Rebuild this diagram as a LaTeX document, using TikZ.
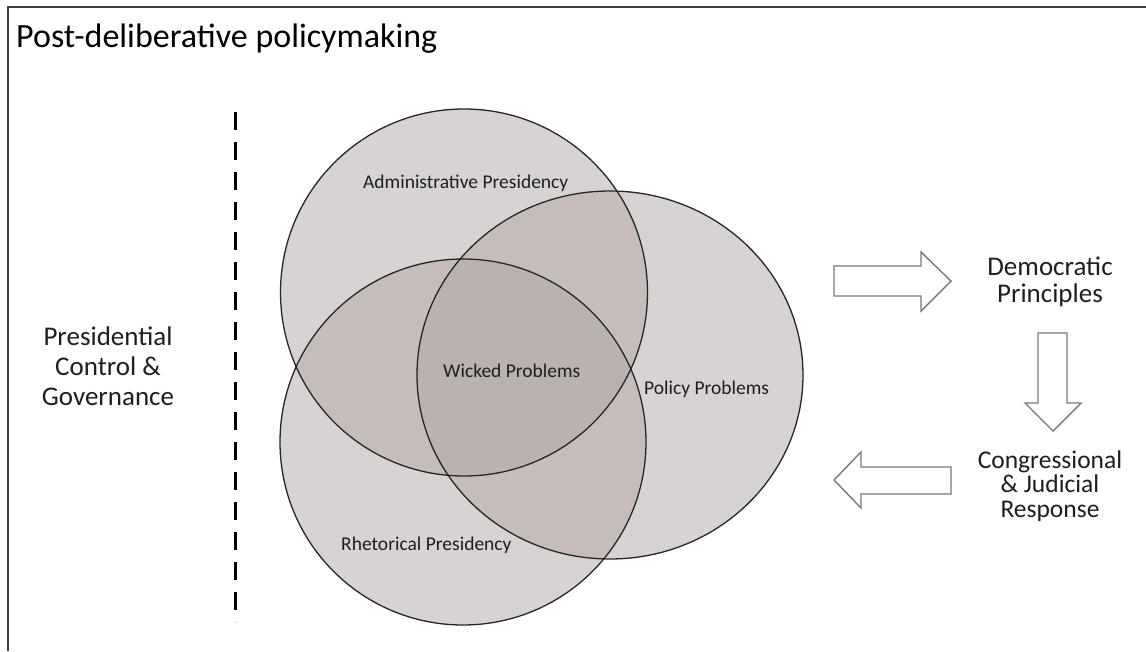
\documentclass[tikz,border=0pt]{standalone}
\usepackage{fontspec}
\setmainfont{Carlito}
\definecolor{venn}{RGB}{176,167,165}
\definecolor{txt}{RGB}{30,30,30}
\definecolor{arrowline}{RGB}{120,120,120}
\tikzset{
  vennfill/.style={fill=venn, fill opacity=0.5, draw=none},
  vennline/.style={draw=black!85, line width=1.3pt},
  blockarrow/.style={draw=arrowline, fill=white, line width=1.4pt, line join=miter},
  lbl/.style={text=txt, inner sep=0pt, font=\fontsize{19.5}{22}\selectfont},
  side/.style={text=txt, inner sep=0pt, align=center},
}
\begin{document}
\begin{tikzpicture}[x=1pt,y=-1pt]
\useasboundingbox (0,0) rectangle (1146,651);
% frame
\draw[line width=2pt, black!75] (8,651) -- (8,7) -- (1146,7);
\node[anchor=base west, inner sep=0pt, text=black, font=\fontsize{34}{38}\selectfont] (title) at (16,47) {Post-deliberative policymaking};
% dashed divider
\coordinate (dtop) at (235,112);
\coordinate (dbot) at (235,622);
\draw[line width=3pt, dash pattern=on 18pt off 12pt] (dtop) -- (dbot);
% circles
\fill[vennfill] (464,292.5) circle (183.5);
\fill[vennfill] (610,375) ellipse [x radius=193, y radius=184];
\fill[vennfill] (463,442) circle (183);
\draw[vennline] (464,292.5) circle (183.5);
\draw[vennline] (610,375) ellipse [x radius=193, y radius=184];
\draw[vennline] (463,442) circle (183);
% labels
\node[lbl, anchor=base west] (adm) at (363,188) {Administrative Presidency};
\node[lbl, anchor=base west] (wic) at (443,377) {Wicked Problems};
\node[lbl, anchor=base west] (pol) at (644,394) {Policy Problems};
\node[lbl, anchor=base west] (rhe) at (341,550) {Rhetorical Presidency};
% side texts (base anchor = last line baseline)
\node[side, anchor=base, font=\fontsize{27}{30}\selectfont] (pcg) at (108,405) {Presidential\\Control \&\\Governance};
\node[side, anchor=base, font=\fontsize{27}{27}\selectfont] (dem) at (1050,302) {Democratic\\Principles};
\node[side, anchor=base, font=\fontsize{25.5}{24.5}\selectfont] (cjr) at (1050,517) {Congressional\\\& Judicial\\Response};
% block arrows
\draw[blockarrow] (834,266) -- (921,266) -- (921,252) -- (951,281) -- (921,311) -- (921,296) -- (834,296) -- cycle;
\draw[blockarrow] (1038,333) -- (1067,333) -- (1067,403) -- (1081,403) -- (1053,431) -- (1025,403) -- (1038,403) -- cycle;
\draw[blockarrow] (951,467) -- (861,467) -- (861,452) -- (834,480) -- (861,508) -- (861,494) -- (951,494) -- cycle;
\end{tikzpicture}
\end{document}
